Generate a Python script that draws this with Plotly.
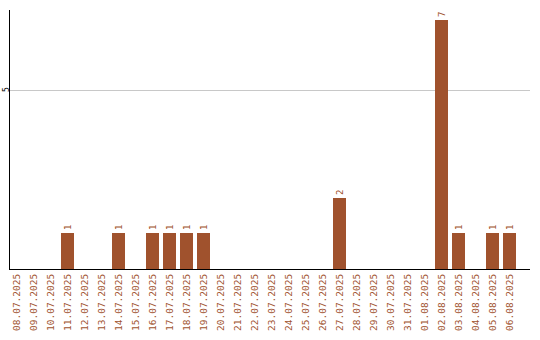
import plotly.graph_objects as go

# Daily counts, 08.07.2025 - 06.08.2025
dates = [
    "08.07.2025", "09.07.2025", "10.07.2025", "11.07.2025", "12.07.2025",
    "13.07.2025", "14.07.2025", "15.07.2025", "16.07.2025", "17.07.2025",
    "18.07.2025", "19.07.2025", "20.07.2025", "21.07.2025", "22.07.2025",
    "23.07.2025", "24.07.2025", "25.07.2025", "26.07.2025", "27.07.2025",
    "28.07.2025", "29.07.2025", "30.07.2025", "31.07.2025", "01.08.2025",
    "02.08.2025", "03.08.2025", "04.08.2025", "05.08.2025", "06.08.2025",
]
counts = [
    0, 0, 0, 1, 0,
    0, 1, 0, 1, 1,
    1, 1, 0, 0, 0,
    0, 0, 0, 0, 2,
    0, 0, 0, 0, 0,
    7, 1, 0, 1, 1,
]
y_ticks = [5]

bar_color = "#a0522d"
labels = [str(v) if v else "" for v in counts]

fig = go.Figure(
    go.Bar(
        x=list(range(len(dates))),
        y=counts,
        width=0.76,
        marker=dict(color=bar_color, line=dict(width=0)),
        text=labels,
        textposition="outside",
        textangle=-90,
        cliponaxis=False,
        textfont=dict(family="DejaVu Sans Mono", size=9, color=bar_color),
    )
)

fig.update_layout(
    width=540,
    height=340,
    margin=dict(l=10, r=10, t=10, b=71),
    paper_bgcolor="white",
    plot_bgcolor="white",
    showlegend=False,
    bargap=0,
    xaxis=dict(
        range=[-0.382, 30.21],
        tickmode="array",
        tickvals=list(range(len(dates))),
        ticktext=dates,
        tickangle=-90,
        tickfont=dict(family="DejaVu Sans Mono", size=9.5, color=bar_color),
        showline=True,
        linecolor="black",
        linewidth=1,
        showgrid=False,
        ticks="",
        zeroline=False,
        automargin=False,
    ),
    yaxis=dict(
        range=[0, 7.27],
        tickmode="array",
        tickvals=y_ticks,
        tickangle=-90,
        ticklabelstandoff=-3,
        tickfont=dict(family="DejaVu Sans Mono", size=8, color="black"),
        showline=True,
        linecolor="black",
        linewidth=1,
        showgrid=True,
        gridcolor="#c8c8c8",
        gridwidth=1,
        ticks="",
        zeroline=False,
        automargin=False,
    ),
)

fig.write_html("out.html")
